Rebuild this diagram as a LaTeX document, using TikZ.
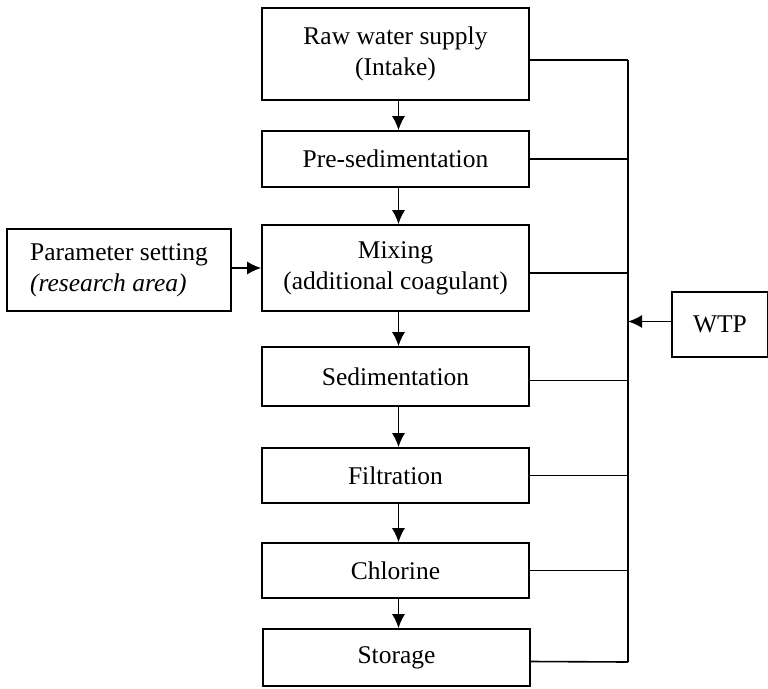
\documentclass[tikz,border=0pt]{standalone}
\usepackage{fontspec}
\setmainfont{Liberation Serif}
\usepackage{tikz}
\usetikzlibrary{calc, positioning, arrows.meta}
\tikzstyle{stage}=[draw, line width=1.6pt, align=center, inner sep=0pt, font=\fontsize{25.5}{31}\selectfont]
\tikzstyle{flow}=[line width=1.6pt, -{Latex[length=14pt,width=13pt]}]
\tikzstyle{branch}=[line width=1.6pt]

\begin{document}
\begin{tikzpicture}[x=1pt,y=-1pt]

		\useasboundingbox (0,0) rectangle (768,688);

		%draw the treatment stages
		\node[stage, minimum width=267pt, minimum height=92pt] (raw) at (395.5,54) {Raw water supply\\(Intake)};
		\node[stage, minimum width=267pt, minimum height=56pt] (pre) at (395.5,159) {Pre-sedimentation};
		\node[stage, minimum width=267pt, minimum height=86pt] (mix) at (395.5,268) {Mixing\\(additional coagulant)};
		\node[stage, minimum width=267pt, minimum height=59pt] (sed) at (395.5,376.5) {Sedimentation};
		\node[stage, minimum width=267pt, minimum height=55pt] (fil) at (395.5,475.5) {Filtration};
		\node[stage, minimum width=267pt, minimum height=55pt] (chl) at (395.5,570.5) {Chlorine};
		\node[stage, minimum width=267pt, minimum height=57pt] (sto) at (396.5,657.5) {Storage};

		%side boxes
		\node[stage, align=left, minimum width=224pt, minimum height=82pt] (param) at (119,270) {Parameter setting\\\textit{(research area)}};
		\node[stage, minimum width=96pt, minimum height=65pt] (wtp) at (720,324.5) {WTP};

		%arrows down the line
		\draw[flow] ([xshift=3pt]raw.south) -- ([xshift=3pt]pre.north);
		\draw[flow] ([xshift=3pt]pre.south) -- ([xshift=3pt]mix.north);
		\draw[flow] ([xshift=3pt]mix.south) -- ([xshift=3pt]sed.north);
		\draw[flow] ([xshift=3pt]sed.south) -- ([xshift=3pt]fil.north);
		\draw[flow] ([xshift=3pt]fil.south) -- ([xshift=3pt]chl.north);
		\draw[flow] ([xshift=3pt]chl.south) -- ([xshift=2pt]sto.north);
		\draw[flow] ([yshift=2pt]param.east) -- ([yshift=2pt]param.east -| mix.west);

		%collecting line on the right
		\coordinate (top) at (628,60);
		\coordinate (bot) at (628,662);
		\draw[branch] (top) -- (bot);
		\draw[branch] ([yshift=-6pt]raw.east) -- ([yshift=-6pt]raw.east -| top);
		\draw[branch] (pre.east) -- (pre.east -| top);
		\draw[branch] ([yshift=-5pt]mix.east) -- ([yshift=-5pt]mix.east -| top);
		\draw[branch] ([yshift=-4pt]sed.east) -- ([yshift=-4pt]sed.east -| top);
		\draw[branch] (fil.east) -- (fil.east -| top);
		\draw[branch] (chl.east) -- (chl.east -| top);
		\draw[branch] ([yshift=-4pt]sto.east) -- (bot);
		\draw[flow] ([yshift=3pt]wtp.west) -- ([yshift=3pt]wtp.west -| top);

	\end{tikzpicture}
\end{document}
